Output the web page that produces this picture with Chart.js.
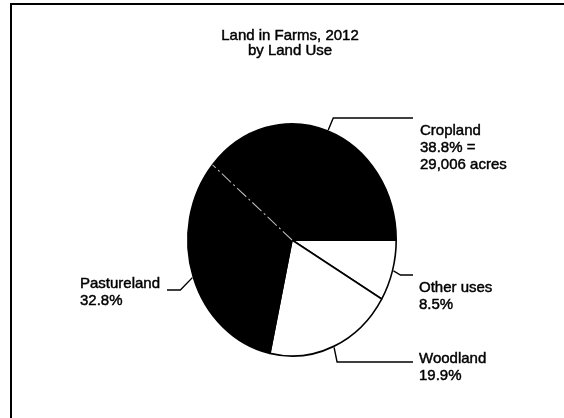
<!DOCTYPE html>
<html>
<head>
<meta charset="utf-8">
<script src="https://cdn.jsdelivr.net/npm/chart.js@4/dist/chart.umd.min.js"></script>
<style>
  html, body { margin: 0; padding: 0; background: #fff; overflow: hidden; }
  #wrap { position: relative; width: 564px; height: 418px; overflow: hidden; }
  #frame { position: absolute; left: 10px; top: 3px; width: 600px; height: 500px;
           border-left: 2px solid #000; border-top: 2px solid #000; }
  canvas { position: absolute; left: 0; top: 0; }
</style>
</head>
<body>
<div id="wrap">
  <div id="frame"></div>
  <canvas id="grafico-terra" width="564" height="418"></canvas>
</div>
<script>
// categories in clockwise order, starting at 3 o'clock
const categorias = ['Other uses', 'Woodland', 'Pastureland', 'Cropland'];
const percentuais = [8.5, 19.9, 32.8, 38.8];
const acres = [null, null, null, '29,006'];
const cores = ['#ffffff', '#ffffff', '#000000', '#000000'];
const titulo = ['Land in Farms, 2012', 'by Land Use'];

// where each callout sits (leader y, elbow offset, end of leader, text anchor)
const rotulos = {
    'Cropland':    { lineY: 118, elbow: 5,   endX: 413, textX: 420, textY: 135 },
    'Other uses':  { lineY: 275, elbow: 7,   endX: 413, textX: 419, textY: 292 },
    'Woodland':    { lineY: 362, elbow: 3,   endX: 413, textX: 419, textY: 363 },
    'Pastureland': { lineY: 290, elbow: -12, endX: 167, textX: 80,  textY: 288 }
};

const achatamento = 117 / 105;   // the printed pie is a bit taller than wide
const fonte = '15px "Liberation Sans", Arial, sans-serif';

function linhasDoRotulo(i) {
    const p = percentuais[i].toFixed(1) + '%';
    if (acres[i]) return [categorias[i], p + ' =', acres[i] + ' acres'];
    return [categorias[i], p];
}

// scanned print looks a touch heavier than plain fill
function escreve(ctx, t, x, y) {
    ctx.fillText(t, x, y);
    ctx.strokeText(t, x, y);
}

const elipse = {
    id: 'elipse',
    beforeDatasetsDraw(chart) {
        const arc = chart.getDatasetMeta(0).data[0];
        const ctx = chart.ctx;
        ctx.save();
        ctx.translate(arc.x, arc.y);
        ctx.scale(1, achatamento);
        ctx.translate(-arc.x, -arc.y);
    },
    afterDatasetsDraw(chart) {
        const ctx = chart.ctx;
        const meta = chart.getDatasetMeta(0);
        // faint seam between the two black slices
        const a = meta.data[categorias.indexOf('Cropland')];
        ctx.beginPath();
        ctx.moveTo(a.x, a.y);
        ctx.lineTo(a.x + Math.cos(a.startAngle) * a.outerRadius, a.y + Math.sin(a.startAngle) * a.outerRadius);
        ctx.strokeStyle = 'rgba(255,255,255,0.75)';
        ctx.lineWidth = 1;
        ctx.setLineDash([12, 3, 2, 3]);
        ctx.stroke();
        ctx.restore();
    },
    afterDraw(chart) {
        const ctx = chart.ctx;
        const meta = chart.getDatasetMeta(0);
        ctx.save();
        ctx.fillStyle = '#000';
        ctx.font = fonte;
        ctx.textBaseline = 'alphabetic';

        ctx.textAlign = 'center';
        ctx.strokeStyle = '#000';
        ctx.lineWidth = 0.45;
        titulo.forEach((t, k) => escreve(ctx, t, 290, 40 + k * 15));

        meta.data.forEach((arc, i) => {
            const r = rotulos[categorias[i]];
            const mid = (arc.startAngle + arc.endAngle) / 2;
            const sx = arc.x + Math.cos(mid) * (arc.outerRadius + 1);
            const sy = arc.y + Math.sin(mid) * (arc.outerRadius + 1) * achatamento;
            ctx.beginPath();
            ctx.moveTo(sx, sy);
            ctx.lineTo(sx + r.elbow, r.lineY);
            ctx.lineTo(r.endX, r.lineY);
            ctx.lineWidth = 1.4;
            ctx.setLineDash([]);
            ctx.stroke();

            ctx.textAlign = 'left';
            ctx.lineWidth = 0.45;
            linhasDoRotulo(i).forEach((t, k) => escreve(ctx, t, r.textX, r.textY + k * 17));
        });
        ctx.restore();
    }
};

document.addEventListener('DOMContentLoaded', () => {
    const ctx = document.getElementById('grafico-terra').getContext('2d');
    const grafico = new Chart(ctx, {
        type: 'pie',
        data: {
            labels: categorias,
            datasets: [{
                data: percentuais,
                backgroundColor: cores,
                borderColor: '#000',
                borderWidth: 1.6
            }]
        },
        options: {
            responsive: false,
            animation: false,
            rotation: 90,
            layout: { padding: { left: 187, right: 167, top: 135, bottom: 73 } },
            plugins: {
                legend: { display: false },
                tooltip: { enabled: false }
            }
        },
        plugins: [elipse]
    });
});
</script>
</body>
</html>
